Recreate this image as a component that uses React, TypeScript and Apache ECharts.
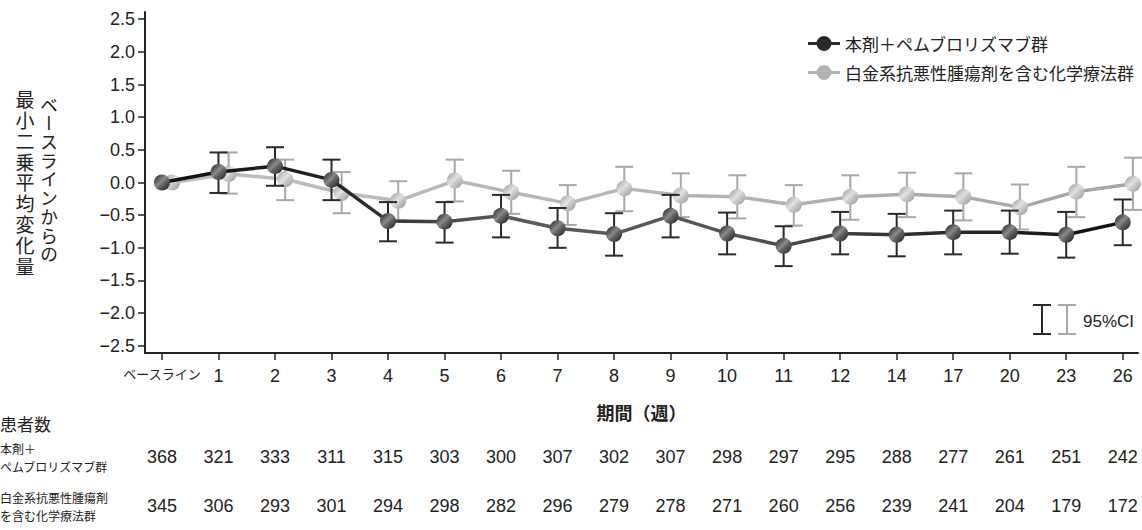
import React, { useEffect, useRef } from "react";
import * as echarts from "echarts";

const categories = ["ベースライン", "1", "2", "3", "4", "5", "6", "7", "8", "9", "10", "11", "12", "14", "17", "20", "23", "26"];
const darkName = "本剤＋ペムブロリズマブ群";
const grayName = "白金系抗悪性腫瘍剤を含む化学療法群";
const darkMean = [0, 0.16, 0.25, 0.04, -0.59, -0.6, -0.51, -0.7, -0.79, -0.51, -0.78, -0.97, -0.78, -0.8, -0.76, -0.76, -0.8, -0.61];
const darkLow = [0, -0.16, -0.05, -0.27, -0.9, -0.92, -0.84, -1.0, -1.12, -0.84, -1.1, -1.28, -1.1, -1.13, -1.1, -1.09, -1.15, -0.96];
const darkHigh = [0, 0.46, 0.54, 0.35, -0.3, -0.3, -0.19, -0.39, -0.47, -0.19, -0.46, -0.67, -0.45, -0.48, -0.43, -0.43, -0.45, -0.26];
const grayMean = [0, 0.13, 0.05, -0.16, -0.28, 0.03, -0.15, -0.32, -0.09, -0.2, -0.22, -0.34, -0.22, -0.18, -0.22, -0.38, -0.14, -0.02];
const grayLow = [0, -0.17, -0.27, -0.47, -0.58, -0.29, -0.48, -0.65, -0.44, -0.53, -0.55, -0.66, -0.57, -0.53, -0.58, -0.72, -0.53, -0.42];
const grayHigh = [0, 0.46, 0.35, 0.16, 0.02, 0.35, 0.18, -0.04, 0.24, 0.14, 0.11, -0.04, 0.11, 0.15, 0.14, -0.03, 0.24, 0.38];
const nDark = [368, 321, 333, 311, 315, 303, 300, 307, 302, 307, 298, 297, 295, 288, 277, 261, 251, 242];
const nGray = [345, 306, 293, 301, 294, 298, 282, 296, 279, 278, 271, 260, 256, 239, 241, 204, 179, 172];
const yTicks = [-2.5, -2.0, -1.5, -1.0, -0.5, 0.0, 0.5, 1.0, 1.5, 2.0, 2.5];
const yTitleLeft = "最小二乗平均変化量";
const yTitleRight = "ベースラインからの";
const xTitle = "期間（週）";
const tableTitle = "患者数";
const rowDarkLabel = ["本剤＋", "ペムブロリズマブ群"];
const rowGrayLabel = ["白金系抗悪性腫瘍剤", "を含む化学療法群"];
const ciLabel = "95%CI";

const DODGE = 0.18;
const LATIN = '"Liberation Sans", "Noto Sans CJK JP", sans-serif';
const CJK = '"Noto Sans CJK JP", "Liberation Sans", sans-serif';
const TXT = "#222";
const DARK = "#2a2a2a";
const GRAY = "#a8a8a8";
const LEGEND_ICON =
  "path://M0,6.5L32,6.5L32,9.5L0,9.5Z M8.5,8A7.5,7.5 0 1 1 23.5,8A7.5,7.5 0 1 1 8.5,8Z";

const idx = categories.map((_, i) => i);

function errRender(color: string) {
  return (params: any, api: any) => {
    const x = api.value(0);
    const lo = api.value(1);
    const hi = api.value(2);
    if (lo === hi) return { type: "group", children: [] };
    const p1 = api.coord([x, lo]);
    const p2 = api.coord([x, hi]);
    const hw = 9;
    const st = { stroke: color, lineWidth: 2 };
    return {
      type: "group",
      children: [
        { type: "line", shape: { x1: p1[0], y1: p1[1], x2: p2[0], y2: p2[1] }, style: st },
        { type: "line", shape: { x1: p1[0] - hw, y1: p1[1], x2: p1[0] + hw, y2: p1[1] }, style: st },
        { type: "line", shape: { x1: p2[0] - hw, y1: p2[1], x2: p2[0] + hw, y2: p2[1] }, style: st },
      ],
    };
  };
}

function countAxis(counts: number[], offset: number) {
  return {
    type: "value",
    min: -0.3,
    max: 17.27,
    position: "bottom",
    offset,
    axisLine: { show: false },
    axisTick: { show: false },
    splitLine: { show: false },
    axisLabel: {
      customValues: idx,
      formatter: (v: number) => String(counts[Math.round(v)]),
      fontSize: 18,
      color: TXT,
      fontFamily: LATIN,
      margin: 14,
    },
  };
}

export default function App() {
  const ref = useRef<HTMLDivElement>(null);
  useEffect(() => {
    const chart = echarts.init(ref.current!, null, { renderer: "svg" });
    const darkLine = new echarts.graphic.LinearGradient(0, 0, 1, 0, [
      { offset: 0, color: "#111" },
      { offset: 0.18, color: "#222" },
      { offset: 0.35, color: "#5a5a5a" },
      { offset: 0.6, color: "#555" },
      { offset: 0.8, color: "#2a2a2a" },
      { offset: 1, color: "#111" },
    ]);
    const grayLine = new echarts.graphic.LinearGradient(0, 0, 1, 0, [
      { offset: 0, color: "#bdbdbd" },
      { offset: 0.5, color: "#b5b5b5" },
      { offset: 1, color: "#a5a5a5" },
    ]);
    const darkBall = new echarts.graphic.LinearGradient(0, 0, 1, 1, [
      { offset: 0, color: "#1c1c1c" },
      { offset: 0.45, color: "#8a8a8a" },
      { offset: 0.55, color: "#6a6a6a" },
      { offset: 1, color: "#1a1a1a" },
    ]);
    const grayBall = new echarts.graphic.LinearGradient(0, 0, 1, 1, [
      { offset: 0, color: "#9a9a9a" },
      { offset: 0.45, color: "#e2e2e2" },
      { offset: 0.55, color: "#cfcfcf" },
      { offset: 1, color: "#949494" },
    ]);
    const option: any = {
      animation: false,
      backgroundColor: "#fff",
      textStyle: { fontFamily: LATIN },
      grid: { left: 145, right: 4, top: 12, bottom: 177, containLabel: false, outerBoundsMode: "none" },
      legend: {
        left: 803,
        top: 30,
        orient: "vertical",
        itemGap: 12,
        itemWidth: 32,
        itemHeight: 16,
        data: [
          { name: darkName, icon: LEGEND_ICON, itemStyle: { color: "#2b2b2b" } },
          { name: grayName, icon: LEGEND_ICON, itemStyle: { color: "#b3b3b3" } },
        ],
        textStyle: { fontSize: 17, color: TXT, fontFamily: CJK },
      },
      xAxis: [
        {
          type: "value",
          min: -0.3,
          max: 17.27,
          name: xTitle,
          nameLocation: "middle",
          nameGap: 50,
          nameTextStyle: { fontSize: 18, fontWeight: "bold", color: TXT, fontFamily: CJK },
          axisLine: { show: true, onZero: false, lineStyle: { color: "#222", width: 2 } },
          axisTick: { show: true, customValues: idx, length: 7, lineStyle: { color: "#222", width: 1.5 } },
          splitLine: { show: false },
          axisLabel: {
            customValues: idx,
            formatter: (v: number) => {
              const i = Math.round(v);
              return i === 0 ? "{s|" + categories[0] + "}" : categories[i];
            },
            fontSize: 18,
            color: TXT,
            margin: 14,
            rich: { s: { fontSize: 13, fontFamily: CJK, color: TXT } },
          },
        },
        countAxis(nDark, 81),
        countAxis(nGray, 130),
      ],
      yAxis: {
        type: "value",
        min: -2.61,
        max: 2.61,
        axisLine: { show: true, onZero: false, lineStyle: { color: "#222", width: 2 } },
        axisTick: { show: true, customValues: yTicks, length: 7, lineStyle: { color: "#222", width: 1.5 } },
        splitLine: { show: false },
        axisLabel: {
          customValues: yTicks,
          formatter: (v: number) => v.toFixed(1).replace("-", "−"),
          fontSize: 18,
          color: TXT,
          margin: 10,
        },
      },
      graphic: [
        { type: "text", x: 25, y: 184, style: { text: yTitleLeft, fontSize: 19, fill: TXT, align: "center", verticalAlign: "middle", fontFamily: CJK } },
        { type: "text", x: 49, y: 180, style: { text: yTitleRight, fontSize: 18, fill: TXT, align: "center", verticalAlign: "middle", fontFamily: CJK } },
        { type: "text", x: 0, y: 423, style: { text: tableTitle, fontSize: 17, fill: TXT, verticalAlign: "middle", fontFamily: CJK } },
        { type: "text", x: 0, y: 448, style: { text: rowDarkLabel[0], fontSize: 12, fill: TXT, verticalAlign: "middle", fontFamily: CJK } },
        { type: "text", x: 0, y: 466, style: { text: rowDarkLabel[1], fontSize: 12, fill: TXT, verticalAlign: "middle", fontFamily: CJK } },
        { type: "text", x: 0, y: 497, style: { text: rowGrayLabel[0], fontSize: 12, fill: TXT, verticalAlign: "middle", fontFamily: CJK } },
        { type: "text", x: 0, y: 515, style: { text: rowGrayLabel[1], fontSize: 12, fill: TXT, verticalAlign: "middle", fontFamily: CJK } },
        // 95% CI key
        { type: "line", shape: { x1: 1042, y1: 305, x2: 1042, y2: 334 }, style: { stroke: DARK, lineWidth: 2 } },
        { type: "line", shape: { x1: 1033, y1: 305, x2: 1051, y2: 305 }, style: { stroke: DARK, lineWidth: 2 } },
        { type: "line", shape: { x1: 1033, y1: 334, x2: 1051, y2: 334 }, style: { stroke: DARK, lineWidth: 2 } },
        { type: "line", shape: { x1: 1067, y1: 305, x2: 1067, y2: 334 }, style: { stroke: GRAY, lineWidth: 2 } },
        { type: "line", shape: { x1: 1058, y1: 305, x2: 1076, y2: 305 }, style: { stroke: GRAY, lineWidth: 2 } },
        { type: "line", shape: { x1: 1058, y1: 334, x2: 1076, y2: 334 }, style: { stroke: GRAY, lineWidth: 2 } },
        { type: "text", x: 1083, y: 321, style: { text: ciLabel, fontSize: 17, fill: TXT, verticalAlign: "middle", fontFamily: LATIN } },
      ],
      series: [
        {
          type: "custom",
          name: "grayCI",
          xAxisIndex: 0,
          renderItem: errRender(GRAY),
          encode: { x: 0, y: [1, 2] },
          data: idx.map((i) => [i + DODGE, grayLow[i], grayHigh[i]]),
          z: 1,
          silent: true,
        },
        {
          type: "line",
          name: grayName,
          xAxisIndex: 0,
          data: idx.map((i) => [i + DODGE, grayMean[i]]),
          lineStyle: { color: grayLine, width: 3.5 },
          itemStyle: { color: grayBall },
          symbol: "circle",
          symbolSize: 16,
          showSymbol: true,
          z: 2,
        },
        {
          type: "custom",
          name: "darkCI",
          xAxisIndex: 0,
          renderItem: errRender(DARK),
          encode: { x: 0, y: [1, 2] },
          data: idx.map((i) => [i, darkLow[i], darkHigh[i]]),
          z: 3,
          silent: true,
        },
        {
          type: "line",
          name: darkName,
          xAxisIndex: 0,
          data: idx.map((i) => [i, darkMean[i]]),
          lineStyle: { color: darkLine, width: 3.5 },
          itemStyle: { color: darkBall },
          symbol: "circle",
          symbolSize: 16,
          showSymbol: true,
          z: 4,
        },
      ],
    };
    chart.setOption(option);
    // Set the two y-axis title columns in Japanese vertical writing.
    const vertical: Record<string, number> = { [yTitleLeft]: 1.8, [yTitleRight]: 0.7 };
    ref.current!.querySelectorAll("text").forEach((el) => {
      const t = el.textContent || "";
      if (t in vertical) {
        el.setAttribute("writing-mode", "vertical-rl");
        (el as any).style.writingMode = "vertical-rl";
        (el as any).style.letterSpacing = vertical[t] + "px";
      }
    });
    return () => chart.dispose();
  }, []);
  return <div ref={ref} style={{ position: "absolute", left: 0, top: 0, width: 1142, height: 530 }} />;
}
